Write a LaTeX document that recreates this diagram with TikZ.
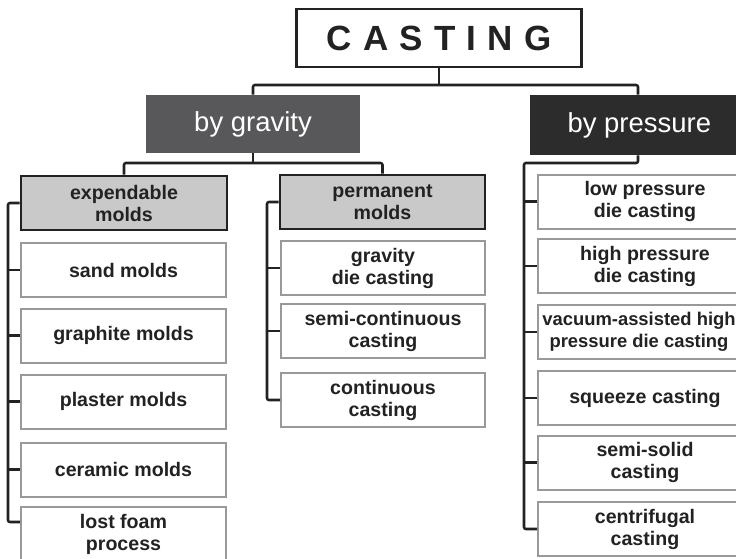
\documentclass[tikz,border=0pt]{standalone}
\usepackage{fontspec}
\setmainfont{Liberation Sans}
\definecolor{ink}{HTML}{222222}
\definecolor{gravfill}{HTML}{58585A}
\definecolor{presfill}{HTML}{2C2C2C}
\definecolor{subfill}{HTML}{C9C9C9}
\definecolor{leafedge}{HTML}{999999}
\tikzset{
  conn/.style={draw=ink, line width=1.9pt, rounded corners=1.5pt},
  topbox/.style={draw=ink, line width=2.2pt, fill=white, inner sep=0pt, text=ink,
     font=\fontsize{26.25}{28}\selectfont\bfseries},
  headbox/.style={draw=none, inner sep=0pt, text=white,
     font=\fontsize{20.6}{24}\selectfont},
  subbox/.style={draw=ink, line width=2.2pt, fill=subfill, inner sep=0pt, align=center, text=ink,
     minimum height=54*0.75pt, font=\fontsize{14.7}{16.5}\selectfont\bfseries},
  leafbox/.style={draw=leafedge, line width=1.5pt, fill=white, inner sep=0pt, align=center, text=ink,
     minimum height=54*0.75pt, font=\fontsize{14.7}{16.5}\selectfont\bfseries},
}
\newcommand{\lsp}{\hspace{8.4pt}}
\begin{document}
\begin{tikzpicture}[x=0.75pt,y=-0.75pt]
\useasboundingbox (0,0) rectangle (736,558);
\clip (0,0) rectangle (736,558);
\fill[white] (0,0) rectangle (736,558);

% top
\node[topbox, minimum width=285*0.75pt, minimum height=58*0.75pt] (cast) at (439,38) {C\lsp A\lsp S\lsp T\lsp I\lsp N\lsp G};
\node[headbox, fill=gravfill, minimum width=214*0.75pt, minimum height=58*0.75pt] (grav) at (253,124) {by gravity};
\node[headbox, fill=presfill, minimum width=216*0.75pt, minimum height=60*0.75pt] (pres) at (638,125) {\hspace*{2pt}by pressure};

% gravity subgroups
\node[subbox, minimum width=206*0.75pt] (exp) at (124,203) {expendable\\molds};
\node[subbox, minimum width=205*0.75pt] (perm) at (382.5,202) {permanent\\molds};

% expendable leaves
\node[leafbox, minimum width=205*0.75pt] (sand) at (123.5,270) {sand molds};
\node[leafbox, minimum width=205*0.75pt] (graph) at (123.5,335.5) {graphite molds};
\node[leafbox, minimum width=205*0.75pt] (plast) at (123.5,401.5) {plaster molds};
\node[leafbox, minimum width=205*0.75pt] (ceram) at (123.5,469.5) {ceramic molds};
\node[leafbox, minimum width=205*0.75pt] (lost) at (123.5,534) {lost foam\\process};

% permanent leaves
\node[leafbox, minimum width=204*0.75pt] (gdc) at (383,268) {gravity\\die casting};
\node[leafbox, minimum width=204*0.75pt] (scc) at (383,331) {semi-continuous\\casting};
\node[leafbox, minimum width=204*0.75pt] (cc) at (383,400) {continuous\\casting};

% pressure leaves
\node[leafbox, minimum width=214*0.75pt] (lpdc) at (645,201.5) {low pressure\\die casting};
\node[leafbox, minimum width=214*0.75pt] (hpdc) at (645,266) {high pressure\\die casting};
\node[leafbox, minimum width=202*0.75pt, font=\fontsize{13.8}{16.5}\selectfont\bfseries] (vac) at (639,332) {vacuum-assisted high\\pressure die casting};
\node[leafbox, minimum width=214*0.75pt] (sq) at (645,398) {squeeze casting};
\node[leafbox, minimum width=214*0.75pt] (ss) at (645,462.5) {semi-solid\\casting};
\node[leafbox, minimum width=214*0.75pt] (cf) at (645,529) {centrifugal\\casting};

% junction coordinates
\coordinate (j1) at (439,85);
\coordinate (j2) at (253,163);
\coordinate (j3) at (524,163);
\coordinate (lb) at (8,203);
\coordinate (lbe) at (8,522);
\coordinate (mb) at (267,202);
\coordinate (mbe) at (267,400);
\coordinate (rbe) at (524,529);

% tree connectors
\draw[conn] (cast.south) -- (j1);
\draw[conn] (grav.north) |- (j1) -| (pres.north);
\draw[conn] (grav.south) -- (j2);
\draw[conn] (exp.north) |- (j2) -| (perm.north);
\draw[conn] (pres.south) |- (j3) -- (rbe) -- (cf.west);

% left bus
\draw[conn] (exp.west) -- (lb) -- (lbe) -- (lbe -| lost.west);
\foreach \n in {sand,graph,plast,ceram}{\draw[conn] (lb |- \n.west) -- (\n.west);}
% middle bus
\draw[conn] (perm.west) -- (mb) -- (mbe) -- (cc.west);
\foreach \n in {gdc,scc}{\draw[conn] (mb |- \n.west) -- (\n.west);}
% right bus stubs
\foreach \n in {lpdc,hpdc,vac,sq,ss}{\draw[conn] (j3 |- \n.west) -- (\n.west);}
\end{tikzpicture}
\end{document}
